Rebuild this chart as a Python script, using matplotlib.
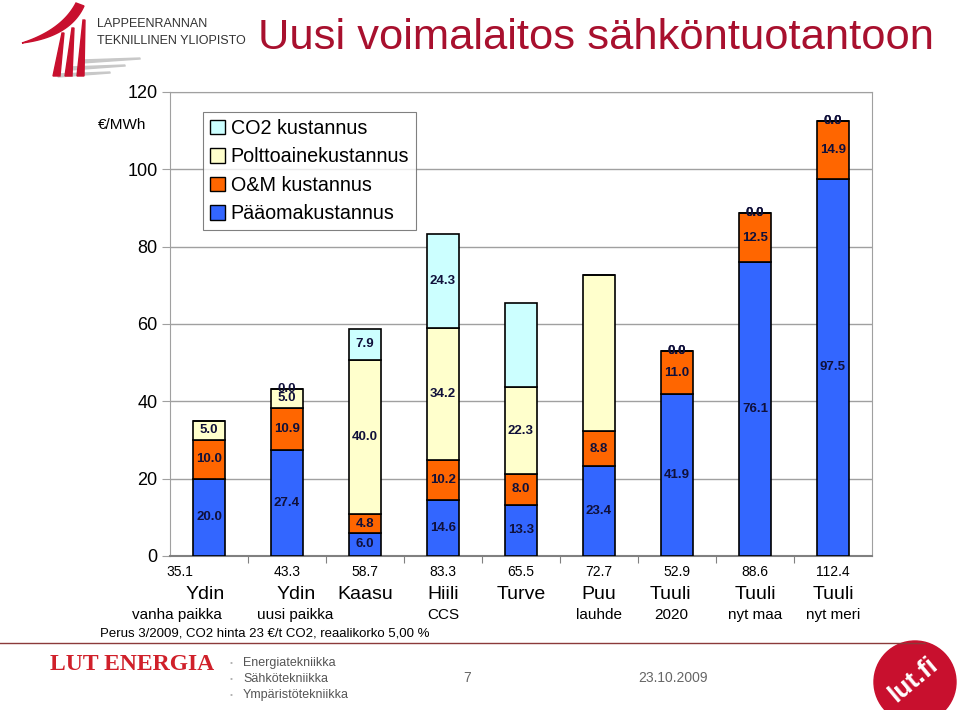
import numpy as np
import matplotlib.pyplot as plt
from matplotlib.patches import Patch, Circle, Polygon
from matplotlib.lines import Line2D
import matplotlib.transforms as mtransforms

plt.rcParams['font.family'] = ['Liberation Sans', 'DejaVu Sans']

# data
names = ["Ydin", "Ydin", "Kaasu", "Hiili", "Turve", "Puu", "Tuuli", "Tuuli", "Tuuli"]
names2 = ["vanha paikka", "uusi paikka", "", "CCS", "", "lauhde", "2020", "nyt maa", "nyt meri"]
totals = ["35.1", "43.3", "58.7", "83.3", "65.5", "72.7", "52.9", "88.6", "112.4"]
paaoma = [20.0, 27.4, 6.0, 14.6, 13.3, 23.4, 41.9, 76.1, 97.5]
om = [10.0, 10.9, 4.8, 10.2, 8.0, 8.8, 11.0, 12.5, 14.9]
polttoaine = [5.0, 5.0, 40.0, 34.2, 22.3, 40.5, 0.0, 0.0, 0.0]
co2 = [0.0, 0.0, 7.9, 24.3, 21.9, 0.0, 0.0, 0.0, 0.0]
# which labels are shown in the original (True = label drawn)
show_polt = [True, True, True, True, True, False, True, True, True]
show_co2 = [False, True, True, True, False, False, True, True, True]

# text boxes under the bars are not exactly centred in the original
shift_total = [-0.37, 0, 0, 0, 0, 0, 0, 0, 0]
shift_name = [-0.05, 0.12, 0, 0, 0, 0, -0.08, 0, 0]
shift_name2 = [-0.41, 0.1, 0, 0, 0, 0, -0.08, 0, 0]

series = [
    ("Pääomakustannus", paaoma, "#3366FF", [True] * 9),
    ("O&M kustannus", om, "#FF6600", [True] * 9),
    ("Polttoainekustannus", polttoaine, "#FFFFCC", show_polt),
    ("CO2 kustannus", co2, "#CCFFFF", show_co2),
]

fig = plt.figure(figsize=(9.59, 7.10), dpi=100)
ax = fig.add_axes([170 / 959, 1 - 556 / 710, 702 / 959, 464 / 710])

x = list(range(len(names)))
bottom = [0.0] * len(x)
handles = []
for label, vals, col, show in series:
    ax.bar(x, vals, 0.4, bottom=bottom, color=col, edgecolor="black", linewidth=1.2, zorder=3)
    for i in x:
        if show[i]:
            ax.text(i, bottom[i] + vals[i] / 2, "%.1f" % vals[i], ha="center", va="center",
                    fontsize=9.5, fontweight="bold", color="#10103a", zorder=4)
    bottom = [b + v for b, v in zip(bottom, vals)]
    handles.append(Patch(facecolor=col, edgecolor="black", label=label))

ax.set_xlim(-0.5, 8.5)
ax.set_ylim(0, 120)
ax.set_yticks([0, 20, 40, 60, 80, 100, 120])
ax.yaxis.grid(True, color="#a0a0a0", linewidth=1.0, zorder=0)
ax.tick_params(axis="y", length=6, color="#a0a0a0", labelsize=13, pad=3)
ax.set_xticks([i + 0.5 for i in x[:-1]])
ax.set_xticklabels([])
ax.tick_params(axis="x", length=5, color="#808080", direction="out")
for s in ["left", "right", "top"]:
    ax.spines[s].set_color("#a0a0a0")
ax.spines["bottom"].set_color("#808080")
ax.spines["bottom"].set_linewidth(1.5)

leg = ax.legend(handles=handles[::-1], loc="upper left", bbox_to_anchor=(0.047, 0.957),
                frameon=True, fancybox=False, borderpad=0.35, labelspacing=0.48,
                handlelength=0.75, handleheight=0.75, handletextpad=0.3, borderaxespad=0,
                prop={"size": 14.2})
leg.get_frame().set_edgecolor("#606060")
leg.get_frame().set_linewidth(0.8)

ax.text(-0.034, 0.929, "€/MWh", transform=ax.transAxes, ha="right", va="center", fontsize=11)

trans = mtransforms.blended_transform_factory(ax.transData, ax.transAxes)
for i in x:
    ax.text(i + shift_total[i], -0.035, totals[i], transform=trans, ha="center", va="center", fontsize=10)
    ax.text(i + shift_name[i], -0.083, names[i], transform=trans, ha="center", va="center", fontsize=14)
    ax.text(i + shift_name2[i], -0.128, names2[i], transform=trans, ha="center", va="center", fontsize=11)
fig.text(100 / 959, 1 - 633 / 710, "Perus 3/2009, CO2 hinta 23 €/t CO2, reaalikorko 5,00 %",
         ha="left", va="center", fontsize=9.5)

# header
fig.text(258 / 959, 1 - 38 / 710, "Uusi voimalaitos sähköntuotantoon", ha="left", va="center",
         fontsize=31.3, color="#A8102E")
fig.text(97 / 959, 1 - 24 / 710, "LAPPEENRANNAN", ha="left", va="center", fontsize=9, color="#333333")
fig.text(97 / 959, 1 - 41 / 710, "TEKNILLINEN YLIOPISTO", ha="left", va="center", fontsize=9, color="#333333")


def px(pts):
    return [(a / 959, 1 - b / 710) for a, b in pts]


def bez(p0, p1, p2, n=30):
    t = np.linspace(0, 1, n)
    return [((1 - s) ** 2 * p0[0] + 2 * (1 - s) * s * p1[0] + s ** 2 * p2[0],
             (1 - s) ** 2 * p0[1] + 2 * (1 - s) * s * p1[1] + s ** 2 * p2[1]) for s in t]


red = "#C8102E"
# swoosh of the university logo
top_edge = bez((22, 43), (62, 30), (76, 3))
low_edge = bez((22, 43), (70, 37), (84, 6))
fig.add_artist(Polygon(px(top_edge + low_edge[::-1]), closed=True, color=red, transform=fig.transFigure))
# grey shadows
for (x0, yy, x1) in [(58, 74, 110), (70, 67, 125), (82, 60, 140)]:
    fig.add_artist(Polygon(px([(x0, yy), (x1, yy - 2), (x1, yy - 1), (x0, yy + 3)]), closed=True,
                           color="#c8c8c8", transform=fig.transFigure))
# three tapered strokes
for (bx, tx, ty) in [(53, 62, 33), (65, 72, 28), (77, 83, 20)]:
    fig.add_artist(Polygon(px([(bx, 76), (bx + 7, 76), (tx + 2, ty), (tx, ty)]), closed=True,
                           color=red, transform=fig.transFigure))

# footer
fig.add_artist(Line2D([0, 925 / 959], [1 - 643 / 710, 1 - 643 / 710], color="#8B3A3A",
                      linewidth=1.0, transform=fig.transFigure))
fig.text(50 / 959, 1 - 665 / 710, "LUT ENERGIA", ha="left", va="center", fontsize=17,
         fontweight="bold", color="#D0202A", family=["Liberation Serif", "DejaVu Serif"])
for k, tx in enumerate(["Energiatekniikka", "Sähkötekniikka", "Ympäristötekniikka"]):
    fig.text(230 / 959, 1 - (663 + k * 16) / 710, "•", ha="left", va="center", fontsize=6, color="#b0b0b0")
    fig.text(243 / 959, 1 - (663 + k * 16) / 710, tx, ha="left", va="center", fontsize=9, color="#555555")
fig.text(467 / 959, 1 - 678 / 710, "7", ha="center", va="center", fontsize=10, color="#666666")
fig.text(673 / 959, 1 - 678 / 710, "23.10.2009", ha="center", va="center", fontsize=10, color="#666666")
ax_c = fig.add_axes([870 / 959, 0, 89 / 959, 75 / 710])
ax_c.set_xlim(870, 959)
ax_c.set_ylim(710, 635)
ax_c.set_aspect("equal")
ax_c.axis("off")
ax_c.add_patch(Circle((915, 682), 41, color=red, clip_on=True))
ax_c.text(913, 680, "lut.fi", rotation=40, ha="center", va="center", fontsize=19,
          fontweight="bold", color="white")

fig.savefig("out.png", dpi=100)
